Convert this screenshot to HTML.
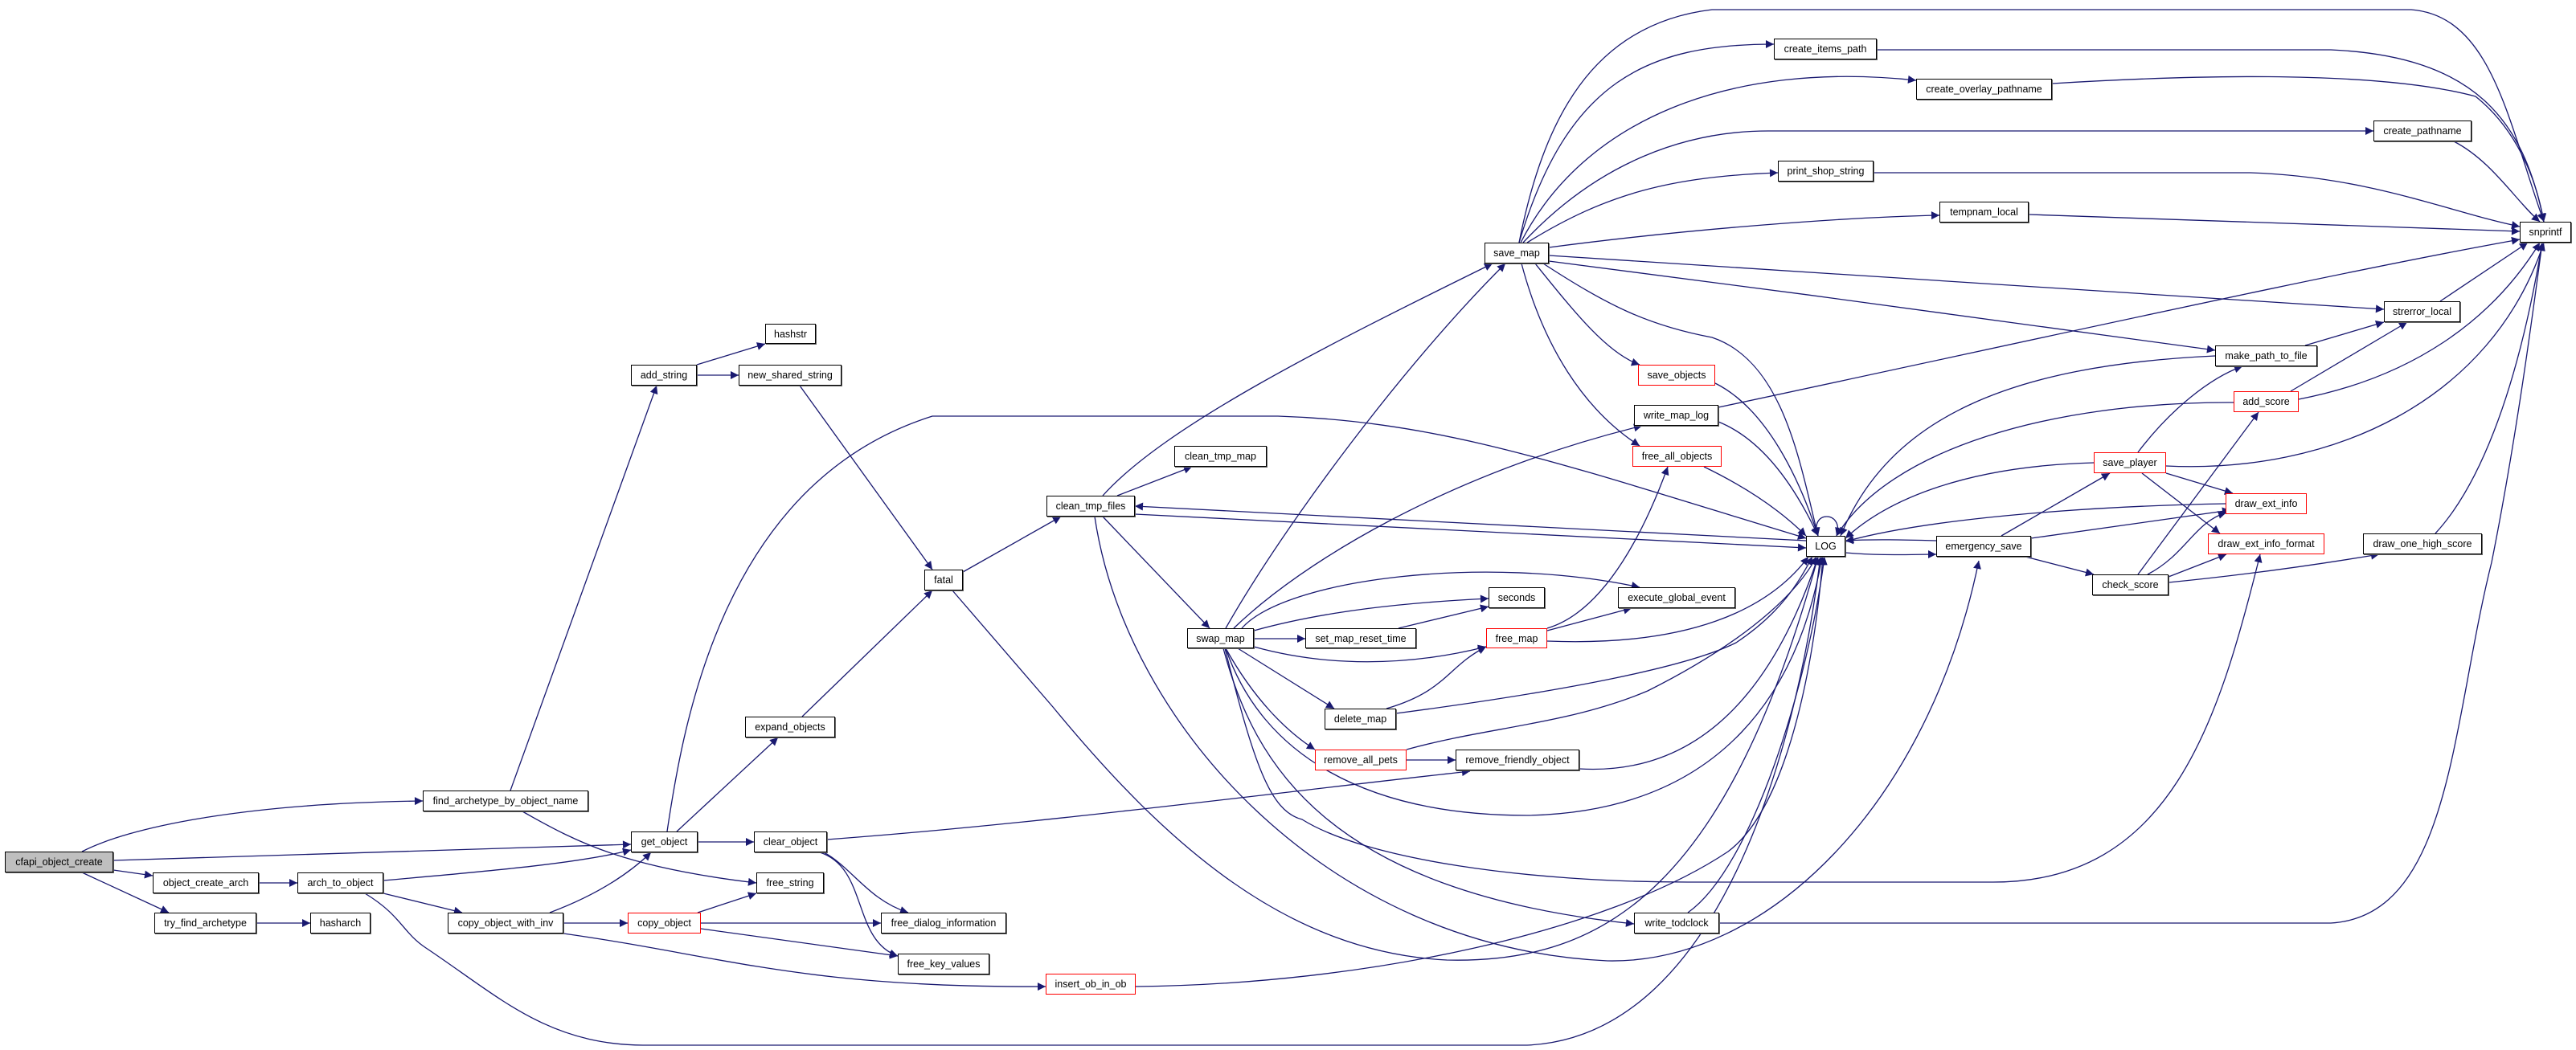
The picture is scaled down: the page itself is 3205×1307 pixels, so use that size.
<!DOCTYPE html>
<html><head><meta charset="utf-8">
<style>
html,body{margin:0;padding:0;background:#fff;}
#c{position:relative;width:3205px;height:1307px;overflow:hidden;background:#fff;}
svg{position:absolute;left:0;top:0;}
.n{position:absolute;box-sizing:border-box;border:1.5px solid #000;background:#fff;font-family:"Liberation Sans",sans-serif;font-size:12.5px;color:#000;display:flex;align-items:center;justify-content:center;white-space:nowrap;box-shadow:1px 1px 0 #666;}
.r{border-color:#f00;box-shadow:none;}
.g{background:#bfbfbf;}
</style></head><body><div id="c">
<svg width="3205" height="1307" viewBox="0 0 3205 1307">
<defs><marker id="a" viewBox="0 0 10 10" refX="10" refY="5" markerWidth="13" markerHeight="10" markerUnits="userSpaceOnUse" orient="auto"><path d="M0,0 L10,5 L0,10 z" fill="#191970"/></marker></defs>
<g fill="none" stroke="#191970" stroke-width="1.3" marker-end="url(#a)">
<path d="M102,1060 C160,1030 300,1000 526,997"/>
<path d="M141,1071 L785,1051"/>
<path d="M141,1083 L190,1090"/>
<path d="M102,1086 L210,1136"/>
<path d="M322,1099 L370,1099"/>
<path d="M319,1149 L386,1149"/>
<path d="M477,1096 C600,1085 720,1075 785,1058"/>
<path d="M477,1112 L575,1136"/>
<path d="M454,1112 C500,1140 500,1160 530,1180 C620,1240 680,1300 800,1301 L1900,1301 C2150,1290 2240,900 2265,693"/>
<path d="M684,1136 C740,1115 780,1090 810,1061"/>
<path d="M701,1149 L781,1149"/>
<path d="M701,1162 C900,1190 1000,1230 1301,1228"/>
<path d="M868,1136 L941,1112"/>
<path d="M872,1149 L1096,1149"/>
<path d="M872,1156 L1117,1190"/>
<path d="M635,984 L817,480"/>
<path d="M650,1010 C720,1050 780,1080 941,1099"/>
<path d="M830,1035 C850,900 900,600 1160,518 L1590,518 C1800,525 1950,580 2247,670"/>
<path d="M842,1035 L968,918"/>
<path d="M868,1048 L938,1048"/>
<path d="M1025,1061 C1060,1080 1080,1120 1130,1136"/>
<path d="M1020,1061 C1080,1080 1060,1170 1117,1190"/>
<path d="M1029,1045 C1300,1025 1600,985 1829,960"/>
<path d="M867,454 L952,428"/>
<path d="M867,467 L919,467"/>
<path d="M995,480 L1160,709"/>
<path d="M998,892 L1160,735"/>
<path d="M1198,712 L1320,643"/>
<path d="M1185,735 L1310,880 C1450,1050 1600,1185 1800,1195 C2000,1200 2150,1100 2262,693"/>
<path d="M1362,643 C1400,900 1650,1180 2000,1196 C2200,1200 2400,1000 2462,698"/>
<path d="M1413,1228 C1700,1225 2000,1160 2150,1060 C2230,1000 2260,800 2268,693"/>
<path d="M2100,1136 C2180,1080 2250,850 2270,693"/>
<path d="M1522,807 C1560,950 1650,1110 2033,1150"/>
<path d="M1524,807 C1560,950 1580,1010 1620,1020 C1700,1070 1900,1098 2100,1098 L2480,1098 C2700,1098 2760,900 2812,690"/>
<path d="M1525,807 C1570,940 1700,1015 1900,1015 C2150,1010 2240,850 2267,693"/>
<path d="M1525,782 C1600,650 1750,450 1873,328"/>
<path d="M1372,617 C1450,530 1650,430 1857,328"/>
<path d="M1390,617 L1483,581"/>
<path d="M1372,643 L1505,782"/>
<path d="M1412,640 L2247,682"/>
<path d="M2247,673 L1412,630"/>
<path d="M1535,782 C1620,700 1800,590 2043,530"/>
<path d="M1545,782 C1600,720 1850,690 2040,731"/>
<path d="M1560,785 C1650,760 1750,750 1852,745"/>
<path d="M1560,795 L1624,795"/>
<path d="M1560,805 C1650,830 1750,830 1849,805"/>
<path d="M1540,807 L1660,882"/>
<path d="M1525,807 C1560,870 1600,910 1636,933"/>
<path d="M1740,782 L1852,755"/>
<path d="M1925,785 L2030,757"/>
<path d="M1925,782 C2000,760 2050,650 2075,581"/>
<path d="M1925,798 C2100,805 2200,760 2250,693"/>
<path d="M1725,882 C1800,860 1800,830 1849,805"/>
<path d="M1737,888 C1950,860 2100,830 2160,800 C2220,760 2240,720 2255,693"/>
<path d="M1750,946 L1811,946"/>
<path d="M1750,933 C1850,905 1950,902 2050,860 C2150,810 2230,750 2260,693"/>
<path d="M1965,957 C2100,965 2200,880 2262,693"/>
<path d="M1890,302 C1920,150 1980,30 2130,12 L3000,12 C3100,20 3120,150 3165,276"/>
<path d="M1890,302 C1950,100 2050,55 2207,55"/>
<path d="M1892,302 C1970,150 2150,75 2384,100"/>
<path d="M1895,302 C1990,200 2100,163 2200,163 L2953,163"/>
<path d="M1900,302 C2000,240 2080,220 2212,215"/>
<path d="M1927,308 C2100,285 2300,270 2413,268"/>
<path d="M1927,318 L2966,385"/>
<path d="M1927,325 C2200,360 2500,400 2756,436"/>
<path d="M1920,328 C2000,380 2050,405 2130,420 C2220,450 2240,580 2262,667"/>
<path d="M1910,328 C1960,390 2000,440 2040,454"/>
<path d="M1893,328 C1920,430 1970,510 2040,555"/>
<path d="M2335,62 L2900,62 C3080,70 3140,150 3165,276"/>
<path d="M2553,104 C2700,95 2950,85 3080,120 C3130,160 3155,220 3165,276"/>
<path d="M3053,176 C3100,200 3130,250 3160,276"/>
<path d="M2331,215 L2800,215 C2950,220 3050,265 3135,282"/>
<path d="M2524,267 L3135,288"/>
<path d="M3036,375 L3145,302"/>
<path d="M2868,430 L2966,401"/>
<path d="M2756,443 C2500,455 2350,520 2290,667"/>
<path d="M2850,487 L2995,401"/>
<path d="M2860,497 C3000,470 3100,400 3160,302"/>
<path d="M2779,501 C2550,500 2350,560 2285,667"/>
<path d="M2660,563 C2700,510 2750,470 2790,456"/>
<path d="M2695,580 C2900,590 3100,500 3165,302"/>
<path d="M2605,576 C2450,580 2350,620 2296,670"/>
<path d="M2695,589 L2778,614"/>
<path d="M2665,589 L2762,664"/>
<path d="M2490,667 L2625,589"/>
<path d="M2527,670 L2775,635"/>
<path d="M2409,673 C2370,672 2330,671 2296,673"/>
<path d="M2296,688 C2340,692 2380,690 2409,690"/>
<path d="M2520,693 L2605,715"/>
<path d="M2769,627 C2600,630 2400,645 2296,674"/>
<path d="M2660,715 L2810,513"/>
<path d="M2672,715 C2720,690 2730,650 2770,638"/>
<path d="M2698,718 L2770,690"/>
<path d="M2698,725 C2800,715 2900,700 2960,690"/>
<path d="M3030,664 C3080,610 3130,500 3163,302"/>
<path d="M2139,1149 L2900,1149 C3050,1140 3050,900 3100,700 C3130,550 3150,400 3163,302"/>
<path d="M2138,507 C2500,430 2900,340 3135,298"/>
<path d="M2138,525 C2200,550 2240,620 2262,667"/>
<path d="M2134,477 C2200,510 2240,600 2262,667"/>
<path d="M2120,581 C2180,610 2220,640 2247,667"/>
<path d="M2262,667 C2250,635 2295,635 2285,667"/>
</g></svg>
<div class="n g" style="left:6px;top:1060px;width:135px;height:26px">cfapi_object_create</div>
<div class="n" style="left:526px;top:984px;width:206px;height:26px">find_archetype_by_object_name</div>
<div class="n" style="left:190px;top:1086px;width:132px;height:26px">object_create_arch</div>
<div class="n" style="left:370px;top:1086px;width:107px;height:26px">arch_to_object</div>
<div class="n" style="left:192px;top:1136px;width:127px;height:26px">try_find_archetype</div>
<div class="n" style="left:386px;top:1136px;width:75px;height:26px">hasharch</div>
<div class="n" style="left:557px;top:1136px;width:144px;height:26px">copy_object_with_inv</div>
<div class="n r" style="left:781px;top:1136px;width:91px;height:26px">copy_object</div>
<div class="n" style="left:785px;top:1035px;width:83px;height:26px">get_object</div>
<div class="n" style="left:938px;top:1035px;width:91px;height:26px">clear_object</div>
<div class="n" style="left:941px;top:1086px;width:84px;height:26px">free_string</div>
<div class="n" style="left:1096px;top:1136px;width:156px;height:26px">free_dialog_information</div>
<div class="n" style="left:1117px;top:1187px;width:114px;height:26px">free_key_values</div>
<div class="n r" style="left:1301px;top:1212px;width:112px;height:26px">insert_ob_in_ob</div>
<div class="n" style="left:785px;top:454px;width:82px;height:26px">add_string</div>
<div class="n" style="left:952px;top:403px;width:63px;height:25px">hashstr</div>
<div class="n" style="left:919px;top:454px;width:128px;height:26px">new_shared_string</div>
<div class="n" style="left:1150px;top:709px;width:48px;height:26px">fatal</div>
<div class="n" style="left:927px;top:892px;width:112px;height:26px">expand_objects</div>
<div class="n" style="left:1302px;top:617px;width:110px;height:26px">clean_tmp_files</div>
<div class="n" style="left:1461px;top:555px;width:115px;height:26px">clean_tmp_map</div>
<div class="n" style="left:1847px;top:302px;width:80px;height:26px">save_map</div>
<div class="n" style="left:1477px;top:782px;width:83px;height:25px">swap_map</div>
<div class="n" style="left:1624px;top:782px;width:138px;height:25px">set_map_reset_time</div>
<div class="n" style="left:1852px;top:731px;width:70px;height:26px">seconds</div>
<div class="n" style="left:2013px;top:731px;width:146px;height:26px">execute_global_event</div>
<div class="n r" style="left:1849px;top:782px;width:76px;height:25px">free_map</div>
<div class="n" style="left:1648px;top:882px;width:89px;height:26px">delete_map</div>
<div class="n r" style="left:1636px;top:933px;width:114px;height:26px">remove_all_pets</div>
<div class="n" style="left:1811px;top:933px;width:154px;height:26px">remove_friendly_object</div>
<div class="n" style="left:2033px;top:1136px;width:106px;height:26px">write_todclock</div>
<div class="n" style="left:2247px;top:667px;width:49px;height:26px">LOG</div>
<div class="n" style="left:2409px;top:667px;width:118px;height:26px">emergency_save</div>
<div class="n r" style="left:2038px;top:454px;width:96px;height:26px">save_objects</div>
<div class="n" style="left:2033px;top:504px;width:105px;height:26px">write_map_log</div>
<div class="n r" style="left:2031px;top:555px;width:111px;height:26px">free_all_objects</div>
<div class="n" style="left:2207px;top:48px;width:128px;height:26px">create_items_path</div>
<div class="n" style="left:2384px;top:98px;width:169px;height:26px">create_overlay_pathname</div>
<div class="n" style="left:2212px;top:200px;width:119px;height:26px">print_shop_string</div>
<div class="n" style="left:2413px;top:251px;width:111px;height:26px">tempnam_local</div>
<div class="n" style="left:2953px;top:150px;width:122px;height:26px">create_pathname</div>
<div class="n" style="left:3135px;top:276px;width:64px;height:26px">snprintf</div>
<div class="n" style="left:2966px;top:375px;width:95px;height:26px">strerror_local</div>
<div class="n" style="left:2756px;top:430px;width:127px;height:26px">make_path_to_file</div>
<div class="n r" style="left:2779px;top:487px;width:81px;height:26px">add_score</div>
<div class="n r" style="left:2605px;top:563px;width:90px;height:26px">save_player</div>
<div class="n r" style="left:2769px;top:614px;width:101px;height:26px">draw_ext_info</div>
<div class="n r" style="left:2747px;top:664px;width:145px;height:26px">draw_ext_info_format</div>
<div class="n" style="left:2603px;top:715px;width:95px;height:26px">check_score</div>
<div class="n" style="left:2940px;top:664px;width:148px;height:26px">draw_one_high_score</div>
</div></body></html>
